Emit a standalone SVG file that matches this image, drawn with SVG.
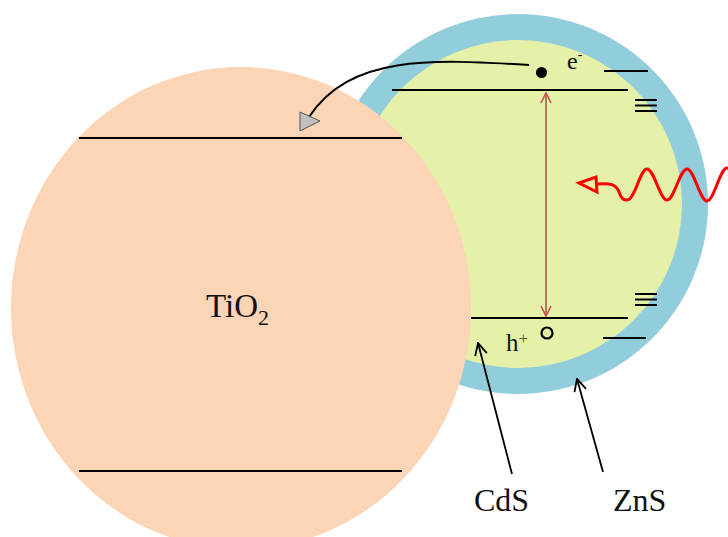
<svg xmlns="http://www.w3.org/2000/svg" width="728" height="537" viewBox="0 0 728 537">
<defs>
<style>
.lvl{stroke:#000;stroke-width:2;fill:none}
.lbl{font-family:"Liberation Serif",serif;fill:#111}
.ptr{stroke:#000;stroke-width:1.8;fill:none}
</style>
<marker id="openV" viewBox="0 0 12 12" refX="11" refY="6" markerWidth="12" markerHeight="12" markerUnits="userSpaceOnUse" orient="auto-start-reverse">
<path d="M1,1 L11,6 L1,11" fill="none" stroke="context-stroke" stroke-width="1.6"/>
</marker>
<marker id="openVb" viewBox="0 0 14 14" refX="13" refY="7" markerWidth="14" markerHeight="14" markerUnits="userSpaceOnUse" orient="auto">
<path d="M1,1 L13,7 L1,13" fill="none" stroke="#000" stroke-width="1.8"/>
</marker>
</defs>
<rect width="728" height="537" fill="#fff"/>
<g id="zns"><circle cx="518" cy="204" r="190" fill="#92cddc"/></g>
<g id="cds"><circle cx="518" cy="204" r="164" fill="#e5f1a8"/></g>
<g id="tio2">
<ellipse cx="241" cy="308" rx="230" ry="241" fill="#fbd5b5"/>
<line class="lvl" x1="79" y1="138" x2="402" y2="138"/>
<line class="lvl" x1="79" y1="471" x2="402" y2="471"/>
<text class="lbl" x="206" y="317" font-size="33">TiO<tspan font-size="22" dy="8">2</tspan></text>
</g>
<g id="cds-levels">
<line class="lvl" x1="392" y1="90" x2="628" y2="90"/>
<line class="lvl" x1="471" y1="318" x2="628" y2="318"/>
<circle cx="541.5" cy="72.5" r="5.5" fill="#000"/>
<circle cx="547" cy="333" r="5.5" fill="none" stroke="#000" stroke-width="2.2"/>
<text class="lbl" x="567" y="69" font-size="24">e<tspan font-size="14" dy="-10">-</tspan></text>
<text class="lbl" x="506" y="351" font-size="25">h<tspan font-size="17" dy="-7" fill="#555">+</tspan></text>
</g>
<g id="zns-levels">
<line class="lvl" x1="604" y1="71" x2="648" y2="71"/>
<line class="lvl" x1="603" y1="338" x2="646" y2="338"/>
<line class="lvl" x1="635" y1="100" x2="657" y2="100"/>
<line class="lvl" x1="635" y1="105.5" x2="657" y2="105.5"/>
<line class="lvl" x1="635" y1="111" x2="657" y2="111"/>
<line class="lvl" x1="635" y1="294" x2="657" y2="294"/>
<line class="lvl" x1="635" y1="299.5" x2="657" y2="299.5"/>
<line class="lvl" x1="635" y1="305" x2="657" y2="305"/>
</g>
<g id="labels">
<text class="lbl" x="474" y="511" font-size="32">CdS</text>
<text class="lbl" x="613" y="511" font-size="32">ZnS</text>
</g>
<g id="connectors">
<line x1="546" y1="93" x2="546" y2="316" stroke="#c0504d" stroke-width="1.6" marker-start="url(#openV)" marker-end="url(#openV)"/>
<path d="M529 65 C 430 59, 350 55, 309 117" fill="none" stroke="#000" stroke-width="2"/>
<polygon points="300,112 320,121 300,131" fill="#c0c0c0" stroke="#555" stroke-width="1"/>
<path d="M598 184 C 610 183, 616 184, 619 192 C 622 200, 624 200, 627 200 C 635 200, 640 169, 647 169 C 654 169, 660 200, 667 200 C 674 200, 680 169, 687 169 C 694 169, 700 201, 707 201 C 714 201, 720 168, 727 168 L 735 168" fill="none" stroke="#ff0000" stroke-width="3"/>
<polygon points="579,183 596,177 597,192" fill="none" stroke="#ff0000" stroke-width="3" stroke-linejoin="miter"/>
<line class="ptr" x1="512" y1="474" x2="478" y2="343" marker-end="url(#openVb)"/>
<line class="ptr" x1="603" y1="472" x2="577" y2="379" marker-end="url(#openVb)"/>
</g>
</svg>
